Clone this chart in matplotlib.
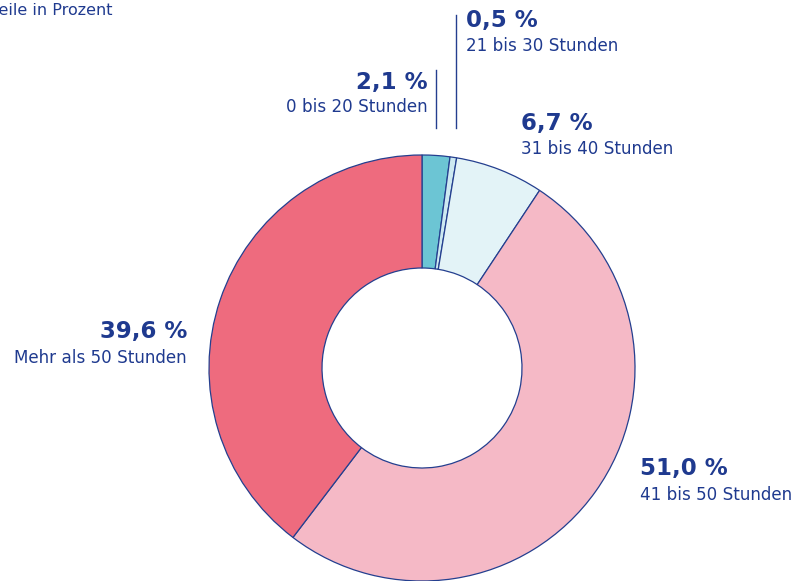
import matplotlib
matplotlib.use("Agg")
import matplotlib.pyplot as plt

categories = ["0 bis 20 Stunden", "21 bis 30 Stunden", "31 bis 40 Stunden",
              "41 bis 50 Stunden", "Mehr als 50 Stunden"]
values = [2.1, 0.5, 6.7, 51.0, 39.6]
value_labels = ["2,1 %", "0,5 %", "6,7 %", "51,0 %", "39,6 %"]
colors = ["#6cc5d4", "#cde9f1", "#e3f3f7", "#f5b9c6", "#ee6b7e"]
title = "Anteile in Prozent"

TEXT = "#1f3a8f"
EDGE = "#243f8f"
W, H = 804, 581

fig = plt.figure(figsize=(W / 100, H / 100), dpi=100)
ax = fig.add_axes([0, 0, 1, 1])

cx, cy, R = 422, H - 368, 213
inner = 100
ax.pie(values, colors=colors, startangle=90, counterclock=False,
       center=(cx, cy), radius=R,
       wedgeprops=dict(width=R - inner, edgecolor=EDGE, linewidth=0.9))

ax.set_xlim(0, W)
ax.set_ylim(0, H)
ax.set_aspect("equal")
ax.axis("off")

def Y(p):
    return H - p

ax.text(113, Y(15), title, ha="right", va="baseline", fontsize=11.5, color=TEXT)

# label positions (pixel coords): (x, baseline big, baseline small, ha)
pos = {
    0: (428, 89, 112, "right"),
    1: (466, 27, 51, "left"),
    2: (521, 130, 154, "left"),
    3: (640, 475, 500, "left"),
    4: (187, 338, 363, "right"),
}
for i, (x, yb, ys, ha) in pos.items():
    ax.text(x, Y(yb), value_labels[i], ha=ha, va="baseline", fontsize=16.5,
            fontweight="heavy", color=TEXT)
    ax.text(x, Y(ys), categories[i], ha=ha, va="baseline", fontsize=12.1,
            color=TEXT)

# leader lines
ax.plot([436, 436], [Y(70), Y(128)], color=EDGE, lw=1.0)
ax.plot([456.5, 456.5], [Y(15), Y(128)], color=EDGE, lw=1.0)

fig.savefig("out.png", dpi=100)
